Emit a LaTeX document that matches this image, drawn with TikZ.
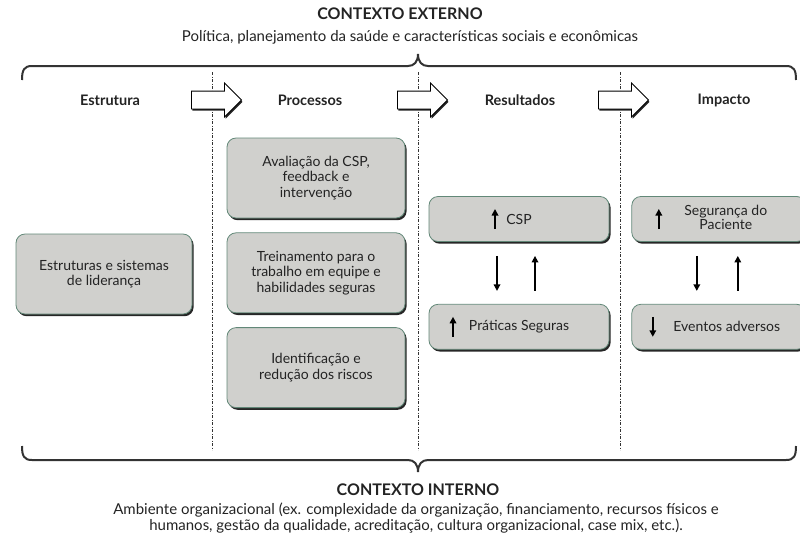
\documentclass[tikz,border=0pt]{standalone}
\usepackage{fontspec}
\setmainfont{Lato}
\usepackage{tikz}
\usetikzlibrary{arrows.meta,positioning,shapes.arrows,shadows}
\definecolor{BoxGray}{RGB}{208,208,205}
\definecolor{EdgeGreen}{RGB}{98,136,120}
\definecolor{InkGray}{RGB}{35,35,35}

\begin{document}
\begin{tikzpicture}[
        x=1pt, y=-1pt, font=\fontsize{14}{15.5}\selectfont, text=InkGray,
        node distance=14pt and 22pt,
        st/.style={draw=EdgeGreen, thick, rounded corners=9pt, fill=BoxGray,
                   align=center, inner sep=2pt, minimum width=178pt, minimum height=80pt,
                   drop shadow={shadow xshift=1.6pt, shadow yshift=-2.2pt,
                                fill=black!85, opacity=1}},
        rs/.style={st, minimum height=45pt},
        hd/.style={font=\fontsize{14.5}{16}\selectfont\bfseries},
        ttl/.style={font=\fontsize{16}{18}\selectfont\bfseries},
        ctx/.style={font=\fontsize{15}{15.5}\selectfont, align=center},
        blk/.style={single arrow, draw=black, thick, fill=white, inner sep=0pt,
                    text height=8.5pt, text depth=8.5pt, minimum height=50pt,
                    single arrow head extend=8pt,
                    drop shadow={shadow xshift=1pt, shadow yshift=-1.8pt,
                                 fill=black!85, opacity=1}},
        sep/.style={dash pattern=on 3pt off 1.6pt on 0.8pt off 1.6pt, semithick, black!80},
        vv/.style={-{Triangle[length=6.5pt,width=6.5pt]}, line width=1.6pt, black},
        brc/.style={line width=2pt, black!80}
      ]
        \useasboundingbox (0,0) rectangle (800,539);

        % contexto externo
        \node[ttl] (ext) at (400,14) {CONTEXTO EXTERNO};
        \node[ctx] (extsub) at (410,37) {Política, planejamento da saúde e características sociais e econômicas};
        \draw[brc] (22,80) .. controls (22,70) and (24,66) .. (32,66) -- (408,66)
                   .. controls (414,66) and (418,62) .. (418,54)
                   .. controls (418,62) and (422,66) .. (428,66) -- (786,66)
                   .. controls (794,66) and (796,70) .. (796,80);

        % separadores
        \foreach \x/\n in {212/a, 418/b, 620/c} {
          \coordinate (top\n) at (\x,72);
          \coordinate (bot\n) at (\x,450);
          \draw[sep] (top\n) -- (bot\n);
        }

        % cabecalhos
        \node[hd] (hest) at (110,100) {Estrutura};
        \node[hd] (hpro) at (310,100) {Processos};
        \node[hd] (hres) at (520,100) {Resultados};
        \node[hd] (himp) at (724,100) {Impacto};
        \node[blk] (ar1) at (212,100) {};
        \node[blk] (ar2) at (418,100) {};
        \node[blk] (ar3) at (619,100) {};

        % estrutura e processos
        \node[st, minimum width=176pt] (lid) at (104,274) {Estruturas e sistemas\\de liderança};
        \node[st] (aval) at (316,178) {Avaliação da CSP,\\feedback e\\intervenção};
        \node[st, below=of aval] (trei) {Treinamento para o\\trabalho em equipe e\\habilidades seguras};
        \node[st, below=of trei] (iden) {Identificação e\\redução dos riscos};

        % resultados e impacto
        \node[rs, minimum width=180pt] (csp) at (519,219) {CSP};
        \node[rs, minimum width=180pt, below=62pt of csp] (prat) {Práticas Seguras};
        \node[rs, minimum width=174pt, right=of csp] (seg)
             {\hspace*{14pt}\begin{tabular}{@{}c@{}}Segurança do\\[-1.5pt]Paciente\end{tabular}};
        \node[rs, minimum width=174pt, right=of prat] (evt) {\hspace*{16pt}Eventos adversos};

        \draw[vv] ([xshift=-24pt,yshift=-10pt]csp.center) -- ([xshift=-24pt,yshift=10pt]csp.center);
        \draw[vv] ([xshift=-66pt,yshift=-10pt]prat.center) -- ([xshift=-66pt,yshift=10pt]prat.center);
        \draw[vv] ([xshift=-60pt,yshift=-10pt]seg.center) -- ([xshift=-60pt,yshift=10pt]seg.center);
        \draw[vv] ([xshift=-66pt,yshift=10pt]evt.center) -- ([xshift=-66pt,yshift=-10pt]evt.center);

        \draw[vv, shorten <=14pt, shorten >=13pt] ([xshift=-22pt]csp.south) -- ([xshift=-22pt]prat.north);
        \draw[vv, shorten <=13pt, shorten >=14pt] ([xshift=16pt]prat.north) -- ([xshift=16pt]csp.south);
        \draw[vv, shorten <=14pt, shorten >=13pt] ([xshift=-22pt]seg.south) -- ([xshift=-22pt]evt.north);
        \draw[vv, shorten <=13pt, shorten >=14pt] ([xshift=19pt]evt.north) -- ([xshift=19pt]seg.south);

        % contexto interno
        \draw[brc] (22,446) .. controls (22,456) and (24,460) .. (32,460) -- (408,460)
                   .. controls (414,460) and (418,464) .. (418,472)
                   .. controls (418,464) and (422,460) .. (428,460) -- (786,460)
                   .. controls (794,460) and (796,456) .. (796,446);
        \node[ttl] (int) at (418,490) {CONTEXTO INTERNO};
        \node[ctx] (intsub) at (416,518)
             {Ambiente organizacional (ex. complexidade da organização, financiamento, recursos físicos e\\
              humanos, gestão da qualidade, acreditação, cultura organizacional, case mix, etc.).};
\end{tikzpicture}
\end{document}
